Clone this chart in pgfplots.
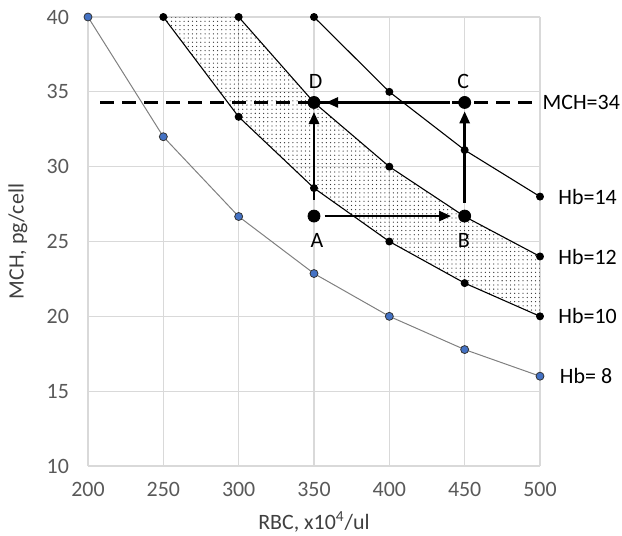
\documentclass[border=0pt]{standalone}
\usepackage{fontspec}
\setmainfont{Carlito}
\usepackage{pgfplots}
\pgfplotsset{compat=1.18}
\usetikzlibrary{patterns,arrows.meta}

\definecolor{tickgray}{HTML}{595959}
\definecolor{gridgray}{HTML}{D9D9D9}
\definecolor{hbblue}{HTML}{4472C4}

% fine dot raster for the Hb 10-12 band
\pgfdeclarepatternformonly{finedots}{\pgfqpoint{-1pt}{-1pt}}{\pgfqpoint{1pt}{1pt}}{\pgfqpoint{2.1pt}{2.1pt}}%
  {\pgfpathcircle{\pgfqpoint{0pt}{0pt}}{0.32pt}\pgfusepath{fill}}

\newcommand{\lbl}{\fontsize{11}{13}\selectfont}

\begin{document}
\begin{tikzpicture}
\path[use as bounding box] (-44bp,-35bp) rectangle (267bp,233bp);
\begin{axis}[
  scale only axis, width=226bp, height=224.5bp,
  xmin=200, xmax=500, ymin=10, ymax=40,
  xtick={200,250,...,500}, ytick={10,15,...,40},
  grid=major, grid style={draw=gridgray, line width=0.6bp},
  axis lines*=left, axis line style={draw=gridgray, line width=0.6bp},
  major tick length=0pt,
  /pgf/number format/assume math mode=true,
  tick label style={font=\lbl, text=tickgray},
  xticklabel style={yshift=-4.5bp},
  yticklabel style={xshift=-6bp},
  xlabel={RBC, x10\textsuperscript{4}/ul}, ylabel={MCH, pg/cell},
  every axis x label/.style={at={(axis description cs:0.5,-0.125)}, anchor=center, font=\lbl, text=black!75},
  every axis y label/.style={at={(axis description cs:-0.155,0.5)}, anchor=center, rotate=90, font=\lbl, text=black!75},
  clip=false,
]
% shaded band between Hb=10 and Hb=12
\addplot[draw=none, pattern=finedots, pattern color=black!80]
  coordinates {(250,40)(300,40)(350,34.29)(400,30)(450,26.67)(500,24)
               (500,20)(450,22.22)(400,25)(350,28.57)(300,33.33)} -- cycle;

% Hb curves
\addplot[gray, line width=0.5bp, mark=*, mark size=2bp,
  mark options={fill=hbblue, draw=black!80, line width=0.4bp}]
  coordinates {(200,40)(250,32)(300,26.67)(350,22.86)(400,20)(450,17.78)(500,16)};
\addplot[black, line width=0.55bp, mark=*, mark size=1.7bp]
  coordinates {(250,40)(300,33.33)(350,28.57)(400,25)(450,22.22)(500,20)};
\addplot[black, line width=0.55bp, mark=*, mark size=1.7bp]
  coordinates {(300,40)(350,34.29)(400,30)(450,26.67)(500,24)};
\addplot[black, line width=0.55bp, mark=*, mark size=1.7bp]
  coordinates {(350,40)(400,35)(450,31.11)(500,28)};

% MCH=34 line
\addplot[black, line width=1.5bp, dash pattern=on 7bp off 4bp]
  coordinates {(208,34.29)(500,34.29)};

% arrows A->B, B->C, C->D, A->D
\addplot[black, line width=1.3bp, -{Triangle[length=6bp,width=5bp]}]
  coordinates {(357,26.7)(441,26.7)};
\addplot[black, line width=1.3bp, -{Triangle[length=6bp,width=5bp]}]
  coordinates {(450,27.6)(450,33.7)};
\addplot[black, line width=1.3bp, -{Triangle[length=6bp,width=5bp]}]
  coordinates {(440,34.29)(358,34.29)};
\addplot[black, line width=1.3bp, -{Triangle[length=6bp,width=5bp]}]
  coordinates {(350,27.8)(350,33.65)};

% points A, B, C, D
\addplot[only marks, black, mark=*, mark size=3bp]
  coordinates {(350,26.7)(450,26.7)(450,34.29)(350,34.29)};

% labels
\node[font=\lbl] at (axis cs:351,35.7) {D};
\node[font=\lbl] at (axis cs:449,35.7) {C};
\node[font=\lbl] at (axis cs:352,25.1) {A};
\node[font=\lbl] at (axis cs:449.5,25.1) {B};
\node[font=\lbl, anchor=west, inner sep=0pt] at (axis cs:501.5,34.29) {MCH=34};
\node[font=\lbl, anchor=west, inner sep=0pt] at (axis cs:512,28) {Hb=14};
\node[font=\lbl, anchor=west, inner sep=0pt] at (axis cs:512,24) {Hb=12};
\node[font=\lbl, anchor=west, inner sep=0pt] at (axis cs:512,20) {Hb=10};
\node[font=\lbl, anchor=west, inner sep=0pt] at (axis cs:513,16) {Hb= 8};
\end{axis}
\end{tikzpicture}
\end{document}
